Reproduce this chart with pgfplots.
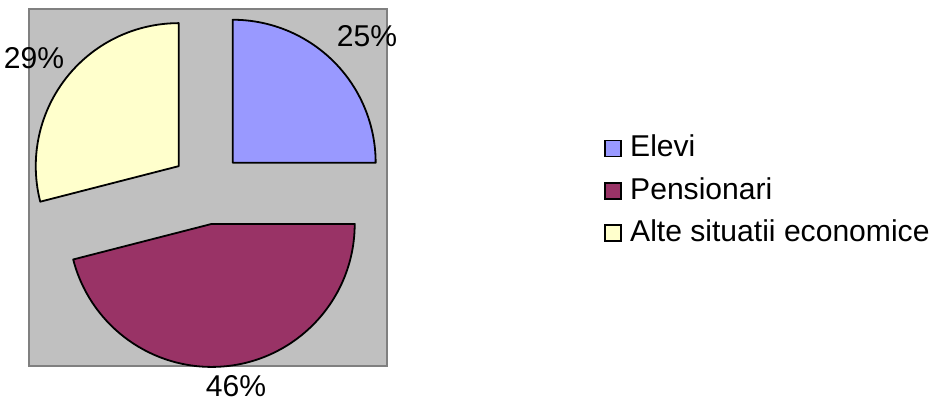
\documentclass[border=0pt]{standalone}
\usepackage{fontspec}
\setmainfont{Liberation Sans}
\usepackage{pgfplots}
\usepackage{pgfplotstable}
\pgfplotsset{compat=1.18}

\definecolor{elevi}{HTML}{9999FF}
\definecolor{pens}{HTML}{993366}
\definecolor{alte}{HTML}{FFFFCC}
\definecolor{plotbg}{HTML}{C0C0C0}
\definecolor{plotframe}{HTML}{808080}

\newcommand\lbl{\fontsize{30.2}{34}\selectfont}

% share (percent) and where its label sits
\pgfplotstableread{
value lx ly
25 367 356
46 236 6
29 34 334
}\piedata

% one exploded wedge: start angle, end angle, colour, value, label x, label y
\newcommand\slice[6]{%
  \pgfmathsetmacro\smid{(#1+#2)/2}%
  \pgfmathsetmacro\sx{\cx+\dd*cos(\smid)}%
  \pgfmathsetmacro\sy{\cy+\dd*sin(\smid)}%
  \edef\temp{%
    \noexpand\filldraw[fill=#3,draw=black,line width=1.8bp,line join=round]
      (axis cs:\sx,\sy) -- ++(#1:\rr bp) arc[start angle=#1,end angle=#2,radius=\rr bp] -- cycle;
    \noexpand\node[anchor=base,inner sep=0pt,font=\noexpand\lbl] at (axis cs:#5,#6) {#4\%};}%
  \temp}

\begin{document}
\begin{tikzpicture}
\pgfplotstablegetelem{0}{value}\of\piedata \let\vA\pgfplotsretval
\pgfplotstablegetelem{1}{value}\of\piedata \let\vB\pgfplotsretval
\pgfplotstablegetelem{2}{value}\of\piedata \let\vC\pgfplotsretval
\pgfplotstablegetelem{0}{lx}\of\piedata \let\lxA\pgfplotsretval
\pgfplotstablegetelem{1}{lx}\of\piedata \let\lxB\pgfplotsretval
\pgfplotstablegetelem{2}{lx}\of\piedata \let\lxC\pgfplotsretval
\pgfplotstablegetelem{0}{ly}\of\piedata \let\lyA\pgfplotsretval
\pgfplotstablegetelem{1}{ly}\of\piedata \let\lyB\pgfplotsretval
\pgfplotstablegetelem{2}{ly}\of\piedata \let\lyC\pgfplotsretval
\pgfmathsetmacro\aA{90}
\pgfmathsetmacro\aB{\aA-3.6*\vA}
\pgfmathsetmacro\aC{\aB-3.6*\vB}
\pgfmathsetmacro\aD{\aC-3.6*\vC}
\pgfmathsetmacro\cx{207.2}
\pgfmathsetmacro\cy{213.8}
\pgfmathsetmacro\rr{143}
\pgfmathsetmacro\dd{36}
\begin{axis}[
  x=1bp, y=1bp, scale only axis,
  xmin=0, xmax=934, ymin=0, ymax=402,
  hide axis, clip=false,
]
\path (axis cs:0,0) rectangle (axis cs:934,402);
\fill[plotbg] (axis cs:29,36) rectangle (axis cs:387,393);
\draw[plotframe,line width=1.8bp] (axis cs:29,36) rectangle (axis cs:387,393);

\slice{\aA}{\aB}{elevi}{\vA}{\lxA}{\lyA}
\slice{\aB}{\aC}{pens}{\vB}{\lxB}{\lyB}
\slice{\aC}{\aD}{alte}{\vC}{\lxC}{\lyC}

% legend
\filldraw[fill=elevi,draw=black,line width=1.5bp] (axis cs:605,245.5) rectangle (axis cs:621,261.5);
\node[anchor=base west,inner sep=0pt,font=\lbl] at (axis cs:630,245.3) {Elevi};
\filldraw[fill=pens,draw=black,line width=1.5bp] (axis cs:605,203.2) rectangle (axis cs:621,219.2);
\node[anchor=base west,inner sep=0pt,font=\lbl] at (axis cs:630,203) {Pensionari};
\filldraw[fill=alte,draw=black,line width=1.5bp] (axis cs:605,161.2) rectangle (axis cs:621,177.2);
\node[anchor=base west,inner sep=0pt,font=\lbl] at (axis cs:630,161) {Alte situatii economice};
\end{axis}
\end{tikzpicture}
\end{document}
